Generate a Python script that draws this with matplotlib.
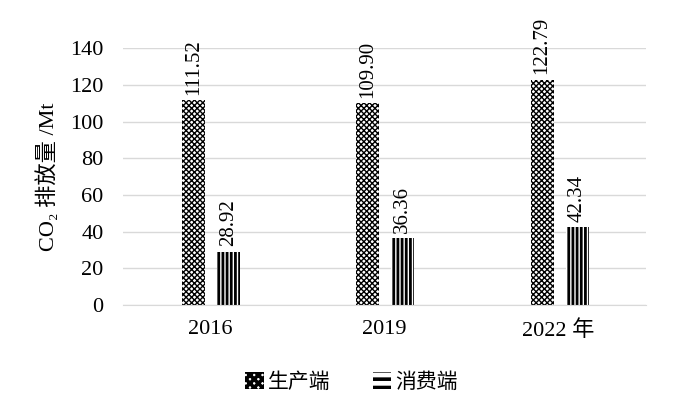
import numpy as np
import matplotlib.pyplot as plt
from matplotlib.patches import Patch

plt.rcParams['font.family'] = ['Liberation Serif', 'Noto Sans CJK SC']

# data
years = ["2016", "2019", "2022 年"]
production = [111.52, 109.90, 122.79]
consumption = [28.92, 36.36, 42.34]

fig = plt.figure(figsize=(6.87, 4.08), dpi=100)
ax = fig.add_axes([0.179, 0.2525, 0.761, 0.6295])

x = np.arange(len(years))
w = 0.132
with plt.rc_context({'hatch.linewidth': 1.0}):
    b1 = ax.bar(x - 0.095, production, w, color='white', edgecolor='black',
                hatch='xxxxxx', linewidth=0)
with plt.rc_context({'hatch.linewidth': 2.0}):
    b2 = ax.bar(x + 0.106, consumption, w, color='white', edgecolor='black',
                hatch='||||', linewidth=0)

for bars, vals in ((b1, production), (b2, consumption)):
    for r, v in zip(bars, vals):
        ax.text(r.get_x() + r.get_width() / 2, v + 3, f"{v:.2f}",
                rotation=90, ha='center', va='bottom', fontsize=15)

ax.set_xlim(-0.5, 2.5)
ax.set_ylim(0, 140)
ax.set_yticks(np.arange(0, 141, 20))
ax.set_xticks(x)
ax.set_xticklabels(years)
ax.tick_params(axis='both', length=0, labelsize=16)
ax.tick_params(axis='y', pad=14)
ax.tick_params(axis='x', pad=11)
ax.grid(axis='y', color='#d9d9d9', linewidth=1)
ax.set_axisbelow(True)
for s in ('top', 'right', 'left'):
    ax.spines[s].set_visible(False)
ax.spines['bottom'].set_color('#d9d9d9')
ax.set_ylabel("CO₂ 排放量 /Mt", fontsize=16, labelpad=8)

# legend swatches: checker and thick horizontal bars
with plt.rc_context({'hatch.linewidth': 2.6}):
    h1 = Patch(facecolor='white', edgecolor='black', hatch='xxxx', linewidth=0)
    h2 = Patch(facecolor='white', edgecolor='black', hatch='--', linewidth=0)
    fig.legend([h1, h2], ["生产端", "消费端"], loc='center', bbox_to_anchor=(0.512, 0.063),
               ncol=2, frameon=False, fontsize=15, handlelength=0.9, handleheight=0.9,
               handletextpad=0.2, columnspacing=2.0)

fig.savefig("out.png", dpi=100)
